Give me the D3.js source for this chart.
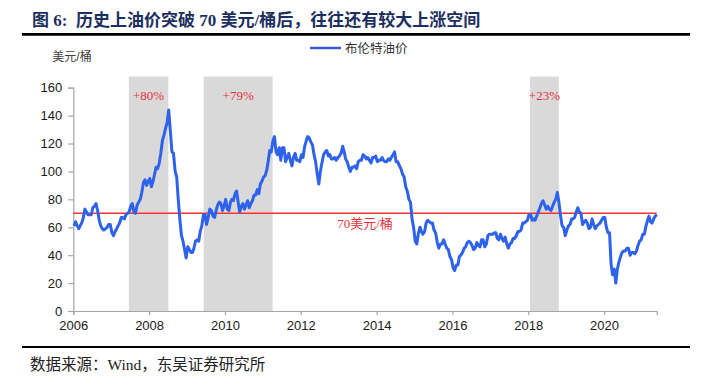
<!DOCTYPE html>
<html>
<head>
<meta charset="utf-8">
<script src="https://cdn.jsdelivr.net/npm/d3@7"></script>
<style>
    body { margin: 0; background: #fff; }
</style>
</head>
<body>
<div id="graph1"></div>
<script>
// Brent price, two readings per month (around the 8th and 23rd), from Jan 2006
const startYear = 2006;
const brentValues = [
    // 2006
    61, 64, 61, 59, 61, 63, 67, 73, 71, 69, 69, 69, 74, 75, 77, 72, 65, 61, 59, 58, 59, 60, 62, 62,
    // 2007
    56, 54, 57, 59, 61, 63, 67, 67, 66, 69, 70, 71, 75, 77, 71, 70, 76, 78, 80, 85, 92, 94, 90, 93,
    // 2008
    95, 89, 93, 98, 103, 102, 106, 113, 122, 126, 131, 135, 144, 130, 114, 113, 100, 96, 80, 66, 54, 50, 44, 38,
    // 2009
    46, 44, 42, 42, 45, 50, 51, 50, 57, 61, 69, 69, 62, 67, 73, 72, 68, 67, 72, 76, 78, 77, 72, 75,
    // 2010
    80, 73, 72, 78, 80, 79, 84, 86, 78, 71, 75, 77, 73, 76, 79, 74, 77, 79, 83, 83, 87, 84, 91, 93,
    // 2011
    96, 97, 101, 108, 115, 114, 122, 125, 114, 112, 117, 108, 117, 117, 107, 110, 113, 108, 104, 110, 113, 108, 108, 107,
    // 2012
    112, 110, 118, 122, 125, 124, 121, 119, 112, 107, 98, 91, 100, 106, 112, 114, 115, 111, 112, 109, 109, 110, 108, 110,
    // 2013
    111, 113, 118, 114, 109, 107, 103, 100, 103, 103, 104, 102, 107, 108, 108, 112, 111, 109, 110, 108, 106, 110, 110, 111,
    // 2014
    107, 108, 108, 110, 108, 107, 107, 109, 108, 110, 112, 114, 107, 107, 104, 102, 98, 96, 89, 86, 80, 78, 66, 60,
    // 2015
    50, 48, 56, 60, 57, 55, 57, 63, 65, 64, 63, 63, 58, 56, 49, 45, 48, 48, 51, 48, 45, 44, 39, 37,
    // 2016
    31, 29, 33, 33, 39, 40, 42, 45, 46, 49, 50, 49, 47, 44, 45, 49, 47, 46, 51, 51, 46, 48, 54, 55,
    // 2017
    55, 55, 56, 56, 52, 51, 55, 52, 50, 53, 48, 45, 48, 49, 52, 52, 54, 57, 57, 58, 63, 63, 64, 65,
    // 2018
    69, 69, 65, 66, 65, 68, 71, 74, 77, 79, 76, 73, 75, 73, 72, 75, 78, 80, 85, 78, 68, 61, 60, 54,
    // 2019
    58, 61, 62, 66, 66, 67, 71, 74, 71, 70, 62, 64, 65, 63, 59, 60, 66, 62, 59, 61, 62, 63, 65, 67,
    // 2020
    67, 60, 56, 56, 34, 26, 30, 20, 30, 35, 39, 42, 43, 43, 45, 45, 40, 42, 42, 41, 43, 47, 50, 51,
    // 2021
    55, 55, 61, 65, 68, 64, 63, 66, 68, 69
];

// Shaded periods after the price broke 70
const bandStarts = ["2007-06-20", "2009-06-10", "2018-01-18"];
const bandEnds = ["2008-07-05", "2011-04-05", "2018-10-22"];
const bandLabels = ["+80%", "+79%", "+23%"];

const yTicks = [0, 20, 40, 60, 80, 100, 120, 140, 160];
const xTickYears = [2006, 2008, 2010, 2012, 2014, 2016, 2018, 2020];
const refValue = 70;
const refLabel = "70美元/桶";

const width = 706, height = 386;
const serif = "'Liberation Serif', 'Noto Sans CJK SC', serif";
const sans = "'Liberation Sans', 'Noto Sans CJK SC', sans-serif";

run_chart();

function run_chart(){

    let svg = d3.select("#graph1")
        .append("svg")
        .attr("width", width)
        .attr("height", height);

    // Title and rules
    svg.append("text")
        .attr("x", 32)
        .attr("y", 25.5)
        .style("font-family", serif)
        .style("font-size", "17px")
        .style("font-weight", "bold")
        .style("white-space", "pre")
        .attr("fill", "#1c2f5f")
        .text("图 6:  历史上油价突破 70 美元/桶后，往往还有较大上涨空间");

    svg.append("line")
        .attr("x1", 22).attr("x2", 690)
        .attr("y1", 34.3).attr("y2", 34.3)
        .attr("stroke", "#000").attr("stroke-width", 2.7);

    svg.append("line")
        .attr("x1", 22).attr("x2", 690)
        .attr("y1", 347).attr("y2", 347)
        .attr("stroke", "#000").attr("stroke-width", 2);

    svg.append("text")
        .attr("x", 30)
        .attr("y", 370)
        .style("font-family", serif)
        .style("font-size", "15.5px")
        .attr("fill", "#222")
        .text("数据来源：Wind，东吴证券研究所");

    // Scales
    let x = d3.scaleTime()
        .domain([new Date(2006, 0, 1), new Date(2021, 4, 22)])
        .range([73.3, 656.7]);

    let y = d3.scaleLinear()
        .domain([0, 160])
        .range([311, 87.7]);

    let parse = d3.timeParse("%Y-%m-%d");
    let data = brentValues.map(function(v, i){
        let yr = startYear + Math.floor(i / 24);
        let mo = Math.floor((i % 24) / 2);
        let day = (i % 2 === 0) ? 8 : 23;
        return {date: new Date(yr, mo, day), value: v};
    });

    // Shaded bands
    let bands = bandStarts.map(function(s, i){
        return {start: parse(s), end: parse(bandEnds[i]), label: bandLabels[i]};
    });

    svg.selectAll("rect.band").data(bands).enter()
        .append("rect")
        .attr("class", "band")
        .attr("x", d => x(d.start))
        .attr("width", d => x(d.end) - x(d.start))
        .attr("y", y(168))
        .attr("height", y(0) - y(168))
        .attr("fill", "#d9d9d9");

    svg.selectAll("text.bandLabel").data(bands).enter()
        .append("text")
        .attr("class", "bandLabel")
        .attr("x", d => (x(d.start) + x(d.end)) / 2)
        .attr("y", 99.5)
        .style("text-anchor", "middle")
        .style("font-family", serif)
        .style("font-size", "13px")
        .attr("fill", "#e8303a")
        .text(d => d.label);

    // Axes
    let yAxis = svg.append("g")
        .attr("transform", `translate(${x.range()[0]},0)`)
        .call(d3.axisLeft(y).tickValues(yTicks).tickSize(5).tickPadding(6));

    let xAxis = svg.append("g")
        .attr("transform", `translate(0,${y(0)})`)
        .call(d3.axisBottom(x)
            .tickValues(xTickYears.map(yr => new Date(yr, 0, 1)))
            .tickFormat(d3.timeFormat("%Y"))
            .tickSize(4).tickPadding(6));

    [xAxis, yAxis].forEach(function(g){
        g.select(".domain").attr("stroke", "#a6a6a6").attr("stroke-width", 1.2);
        g.selectAll(".tick line").attr("stroke", "#a6a6a6").attr("stroke-width", 1.2);
        g.selectAll(".tick text")
            .attr("fill", "#1a1a1a")
            .style("font-family", sans)
            .style("font-size", "13px");
    });

    // y unit label
    svg.append("text")
        .attr("x", 72)
        .attr("y", 61)
        .style("text-anchor", "middle")
        .style("font-family", sans)
        .style("font-size", "12px")
        .attr("fill", "#404040")
        .text("美元/桶");

    // 70 reference line
    svg.append("line")
        .attr("x1", x.range()[0]).attr("x2", x.range()[1])
        .attr("y1", y(refValue)).attr("y2", y(refValue))
        .attr("stroke", "#ff3030").attr("stroke-width", 1.5);

    svg.append("text")
        .attr("x", 365)
        .attr("y", y(refValue) + 15)
        .style("text-anchor", "middle")
        .style("font-family", serif)
        .style("font-size", "13px")
        .attr("fill", "#e8303a")
        .text(refLabel);

    // Brent line
    let line = d3.line()
        .x(d => x(d.date))
        .y(d => y(d.value));

    svg.append("path")
        .datum(data)
        .attr("d", line)
        .attr("fill", "none")
        .attr("stroke", "#2f62ea")
        .attr("stroke-width", 3)
        .attr("stroke-linejoin", "round");

    // Legend
    svg.append("line")
        .attr("x1", 310).attr("x2", 341)
        .attr("y1", 48).attr("y2", 48)
        .attr("stroke", "#3a5bd0").attr("stroke-width", 2.5);

    svg.append("text")
        .attr("x", 345)
        .attr("y", 52.5)
        .style("font-family", sans)
        .style("font-size", "12.5px")
        .attr("fill", "#333")
        .text("布伦特油价");
}
</script>
</body>
</html>
